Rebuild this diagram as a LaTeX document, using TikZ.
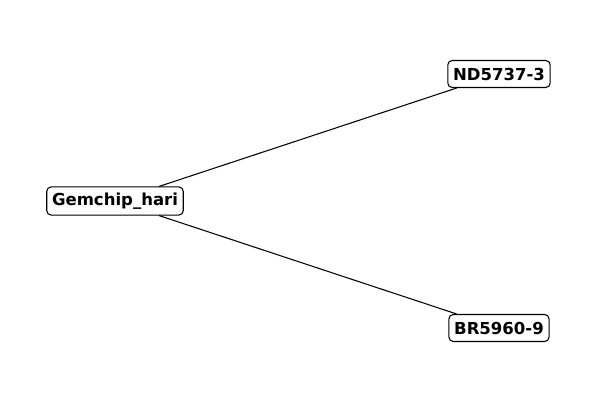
\documentclass[tikz,border=0pt]{standalone}
\usepackage{fontspec}
\setmainfont{DejaVu Sans}

\begin{document}
\begin{tikzpicture}[x=0.02cm,y=0.02cm]
\tikzset{
  hostnode/.style={draw,rounded corners=2.5pt,fill=white,line width=0.6pt,inner xsep=3pt,minimum height=0.54cm,font=\fontsize{9.4}{11}\selectfont\bfseries},
  link/.style={line width=0.6pt}
}
\useasboundingbox (0,0) rectangle (600,400);
\node[hostnode] (n_gem) at (115,199) {Gemchip\_hari};
\node[hostnode] (n_nd) at (499,326) {ND5737-3};
\node[hostnode] (n_br) at (499,72) {BR5960-9};
\draw[link] (n_gem) -- (n_nd);
\draw[link] (n_gem) -- (n_br);
\end{tikzpicture}
\end{document}
